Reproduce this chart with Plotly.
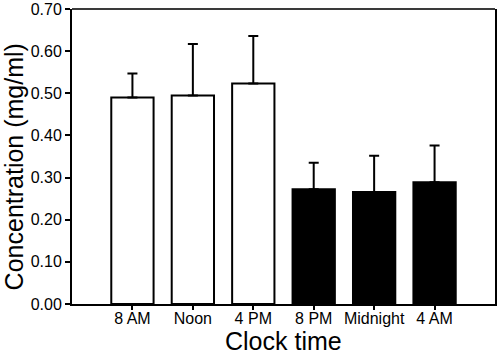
import plotly.graph_objects as go

categories = ["8 AM", "Noon", "4 PM", "8 PM", "Midnight", "4 AM"]
means = [0.490, 0.495, 0.523, 0.272, 0.266, 0.289]
errors = [0.057, 0.122, 0.113, 0.063, 0.086, 0.087]
fill_colors = ["white", "white", "white", "black", "black", "black"]
y_ticks = [0.0, 0.1, 0.2, 0.3, 0.4, 0.5, 0.6, 0.7]
x_title = "Clock time"
y_title = "Concentration (mg/ml)"

FONT = "Liberation Sans, Arial, Helvetica, sans-serif"

fig = go.Figure()
fig.add_trace(go.Bar(
    x=categories,
    y=means,
    width=0.7,
    marker=dict(color=fill_colors, line=dict(color="black", width=2)),
    error_y=dict(type="data", symmetric=False, array=errors,
                 arrayminus=[0] * len(errors),
                 color="black", thickness=2, width=5),
    showlegend=False,
))

fig.update_layout(
    width=498, height=354,
    margin=dict(l=72, r=1, t=7, b=50),
    paper_bgcolor="white", plot_bgcolor="white",
    font=dict(family=FONT, color="black", size=16),
    xaxis=dict(
        type="category", range=[-1, 6],
        showline=True, linecolor="black", linewidth=2, mirror=False,
        ticks="outside", ticklen=4, tickwidth=2, tickcolor="black",
        tickfont=dict(size=16), showgrid=False, zeroline=False,
        ticklabelstandoff=-5,
    ),
    yaxis=dict(
        range=[0, 0.70], tickvals=y_ticks, tickformat=".2f",
        showline=True, linecolor="black", linewidth=2, mirror=True,
        ticks="outside", ticklen=5, tickwidth=2, tickcolor="black",
        tickfont=dict(size=16), showgrid=False, zeroline=False,
        ticklabeloverflow="allow",
    ),
    shapes=[
        dict(type="line", xref="paper", yref="paper", x0=0, x1=1, y0=1, y1=1,
             line=dict(color="#3a3a3a", width=2)),
    ],
    annotations=[
        dict(text=x_title, xref="paper", yref="paper", x=0.5, y=-0.125,
             xanchor="center", yanchor="middle", showarrow=False,
             font=dict(size=25)),
        dict(text=y_title, xref="paper", yref="paper", x=-0.1365, y=0.464,
             xanchor="center", yanchor="middle", showarrow=False,
             textangle=-90, font=dict(size=25)),
    ],
)

fig.write_html("out.html")
